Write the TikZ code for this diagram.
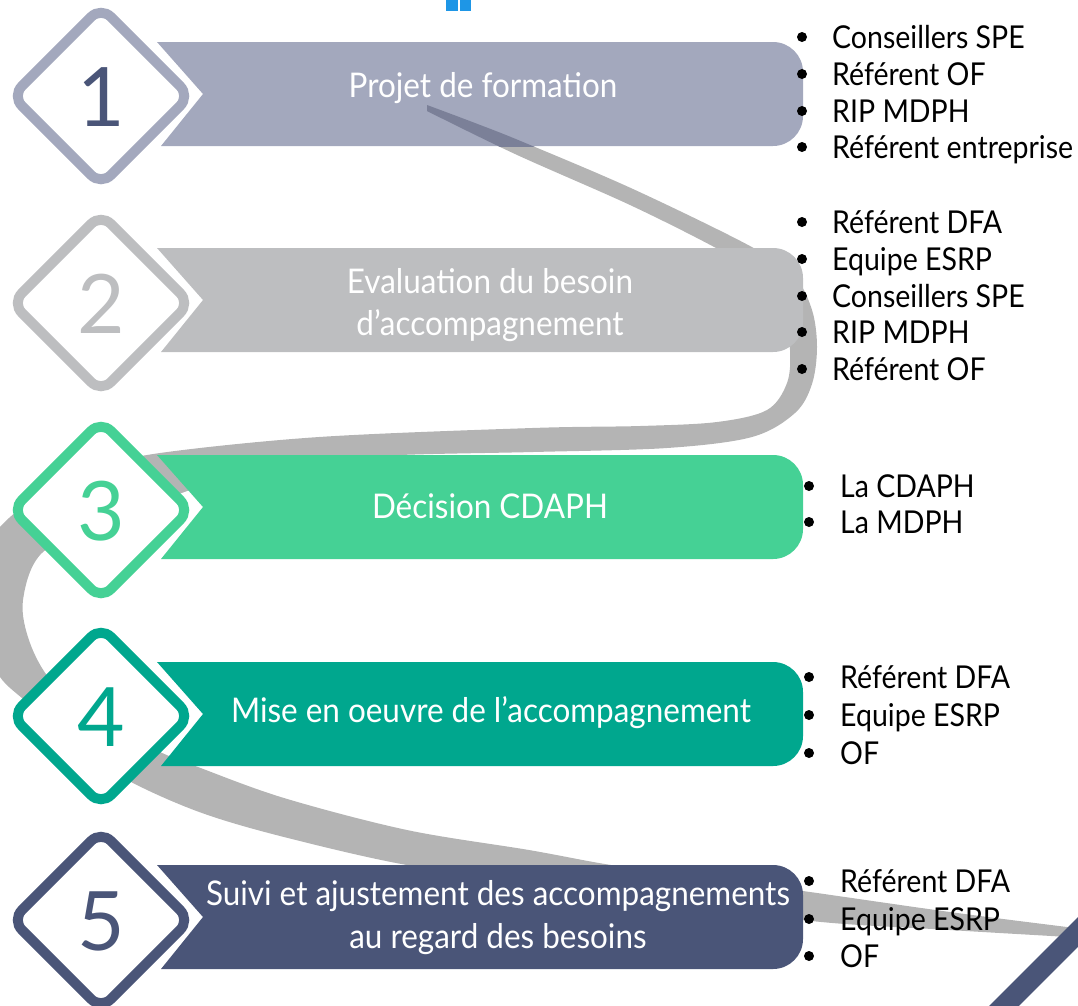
\documentclass[tikz,border=0pt]{standalone}
\usepackage{fontspec}
\setmainfont{Lato}
\newfontfamily\banfont[FakeStretch=0.925]{Lato}
\newfontfamily\lstfont[FakeStretch=0.905]{Lato}
\definecolor{cA}{HTML}{A3A8BD}
\definecolor{cNavy}{HTML}{4A5578}
\definecolor{cB}{HTML}{BDBEC0}
\definecolor{cC}{HTML}{45D195}
\definecolor{cD}{HTML}{00A78E}
\definecolor{cRib}{HTML}{B4B4B4}
\definecolor{cRibDark}{HTML}{7B8098}
\definecolor{cIcon}{HTML}{1E96E6}
\newcommand\ribbonpath{plot[smooth,tension=0.55] coordinates {(427,105) (475,123) (523,142) (633,189) (750,246) (794,276) (812,310) (817,347) (812,384) (795,413) (752,437) (667,448) (533,452) (400,455) (280,462) (190,490) (110,522) (43,552) (23,600) (30,643) (53,683) (100,722) (160,752) (198,767) (284,798) (407,830) (529,850) (611,865) (700,877) (803,891) (950,912) (1067,927) (1095,930)}
 -- plot[smooth,tension=0.55] coordinates {(1095,940) (1067,937) (950,930) (803,920) (650,893) (530,880) (407,865) (284,837) (202,813) (133,783) (80,750) (30,705) (0,677) (-15,640) (-22,600) (-12,555) (0,527) (40,495) (100,468) (160,453) (319,437) (532,428) (640,426) (717,422) (767,410) (787,383) (790,350) (784,308) (760,275) (716,248) (630,205) (515,154) (427,111)} -- cycle}
\newcommand\bannershape[3]{\fill[#1] (157,#2) -- (700,#2) {[rounded corners=30pt] -- (803,#2) -- (803,#3) -- (700,#3)} -- (161,#3) -- (203,{(#2+#3)/2}) -- cycle;}
\newcommand\diamondshape[2]{\draw[#1, line width=10pt, rounded corners=14pt, fill=white] (101,#2-89) -- (190,#2) -- (101,#2+89) -- (12,#2) -- cycle;}
\tikzset{
  bantxt/.style={text=white, font=\banfont\fontsize{34}{40}\selectfont, anchor=base, inner sep=0pt},
  listtxt/.style={text=black, font=\lstfont\fontsize{31.5}{36}\selectfont, anchor=base west, inner sep=0pt},
  numtxt/.style={font=\fontsize{82}{82}\selectfont, anchor=base, inner sep=0pt},
  bul/.style={fill=black}
}
\begin{document}
\begin{tikzpicture}[x=1pt,y=-1pt]
\useasboundingbox (0,0) rectangle (1078,1005);
\clip (0,0) rectangle (1078,1005);
% ribbon
\fill[cRib] \ribbonpath;
% banners
\bannershape{cA}{42}{146}
\bannershape{cB}{248}{352}
\bannershape{cC}{455}{559}
\bannershape{cD}{662}{766}
\bannershape{cNavy}{865}{969}
% ribbon part over banner 1
\begin{scope}
  \clip (157,42) rectangle (803,146);
  \fill[cRibDark] \ribbonpath;
\end{scope}
% diamonds
\diamondshape{cA}{96}
\diamondshape{cB}{303}
\diamondshape{cC}{510}
\diamondshape{cD}{716}
\diamondshape{cNavy}{920}
% numbers
\node[numtxt, text=cNavy] (n1) at (101,126) {1};
\node[numtxt, text=cB] (n2) at (101,333) {2};
\node[numtxt, text=cC] (n3) at (101,540) {3};
\node[numtxt, text=cD] (n4) at (101,746) {4};
\node[numtxt, text=cNavy] (n5) at (101,950) {5};
% banner texts
\node[bantxt] (t1) at (483,97) {Projet de formation};
\node[bantxt] (t2a) at (490,293) {Evaluation du besoin};
\node[bantxt] (t2b) at (490,335) {d’accompagnement};
\node[bantxt] (t3) at (490,518) {Décision CDAPH};
\node[bantxt] (t4) at (491,722) {Mise en oeuvre de l’accompagnement};
\node[bantxt] (t5a) at (498,905) {Suivi et ajustement des accompagnements};
\node[bantxt] (t5b) at (498,948) {au regard des besoins};
% list 1
\foreach \yy/\tt [count=\i] in {48/Conseillers SPE, 85/Référent OF, 122/RIP MDPH, 158/Référent entreprise}{
  \fill[bul] (802,\yy-11) circle[radius=5];
  \node[listtxt] (la\i) at (832,\yy) {\tt};
}
% list 2
\foreach \yy/\tt [count=\i] in {233/Référent DFA, 270/Equipe ESRP, 307/Conseillers SPE, 343/RIP MDPH, 380/Référent OF}{
  \fill[bul] (802,\yy-11) circle[radius=5];
  \node[listtxt] (lb\i) at (832,\yy) {\tt};
}
% list 3
\foreach \yy/\tt [count=\i] in {497/La CDAPH, 533/La MDPH}{
  \fill[bul] (809,\yy-11) circle[radius=5];
  \node[listtxt] (lc\i) at (840,\yy) {\tt};
}
% list 4
\foreach \yy/\tt [count=\i] in {688/Référent DFA, 726/Equipe ESRP, 764/OF}{
  \fill[bul] (809,\yy-11) circle[radius=5];
  \node[listtxt] (ld\i) at (840,\yy) {\tt};
}
% list 5
\foreach \yy/\tt [count=\i] in {892/Référent DFA, 930/Equipe ESRP, 967/OF}{
  \fill[bul] (809,\yy-11) circle[radius=5];
  \node[listtxt] (le\i) at (840,\yy) {\tt};
}
% bottom-right bar
\draw[cNavy, line width=21pt] (1110,900) -- (985,1025);
% top icon
\fill[cIcon] (446,0) rectangle (457.5,11);
\fill[cIcon] (459.5,0) rectangle (471,11);
\end{tikzpicture}
\end{document}
